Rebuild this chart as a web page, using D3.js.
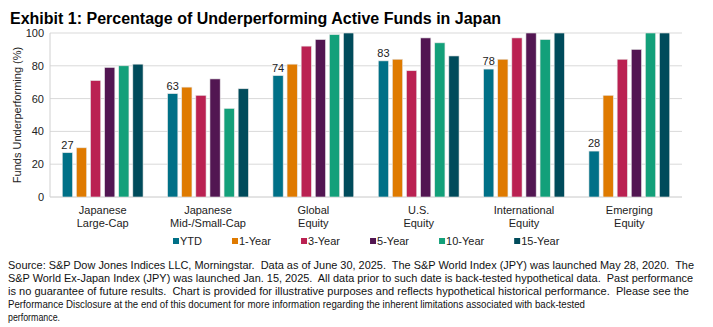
<!DOCTYPE html>
<html>
<head>
<meta charset="utf-8">
<script src="https://cdn.jsdelivr.net/npm/d3@7"></script>
<style>
  body { margin: 0; background: #fff; }
  text { font-family: "Liberation Sans", Arial, sans-serif; fill: #222; }
  .note { white-space: pre; }
</style>
</head>
<body>
<div class="chart"></div>
<script>

var categories = [
    ["Japanese", "Large-Cap"],
    ["Japanese", "Mid-/Small-Cap"],
    ["Global", "Equity"],
    ["U.S.", "Equity"],
    ["International", "Equity"],
    ["Emerging", "Equity"]
];

var seriesNames = ["YTD", "1-Year", "3-Year", "5-Year", "10-Year", "15-Year"];

var ytd = [27, 63, 74, 83, 78, 28];
var oneYear = [30, 67, 81, 84, 84, 62];
var threeYear = [71, 62, 92, 77, 97, 84];
var fiveYear = [79, 72, 96, 97, 100, 90];
var tenYear = [80, 54, 99, 94, 96, 100];
var fifteenYear = [81, 66, 100, 86, 100, 100];

var yTicks = [0, 20, 40, 60, 80, 100];

var colors = ["#007087", "#df7a00", "#ba2152", "#521652", "#13a07a", "#004b5b"];

var footnote = [
    "Source: S&P Dow Jones Indices LLC, Morningstar.  Data as of June 30, 2025.  The S&P World Index (JPY) was launched May 28, 2020.  The",
    "S&P World Ex-Japan Index (JPY) was launched Jan. 15, 2025.  All data prior to such date is back-tested hypothetical data.  Past performance",
    "is no guarantee of future results.  Chart is provided for illustrative purposes and reflects hypothetical historical performance.  Please see the",
    "Performance Disclosure at the end of this document for more information regarding the inherent limitations associated with back-tested",
    "performance."
];
var footnoteWidths = [686, 685, 681, 577, 52];

var allSeries = [ytd, oneYear, threeYear, fiveYear, tenYear, fifteenYear];

// Chart area

var svgWidth = 713;
var svgHeight = 327;

var margin = { top: 33, right: 31, bottom: 130, left: 50 };

var width = svgWidth - margin.left - margin.right;
var height = svgHeight - margin.top - margin.bottom;

var svg = d3.select(".chart")
    .append("svg")
    .attr("width", svgWidth)
    .attr("height", svgHeight);

svg.append("rect")
    .attr("width", svgWidth)
    .attr("height", svgHeight)
    .attr("fill", "#fff");

// Title

svg.append("text")
    .attr("x", 10)
    .attr("y", 24)
    .style("font-size", "16px")
    .style("font-weight", "bold")
    .style("fill", "#000")
    .text("Exhibit 1: Percentage of Underperforming Active Funds in Japan");

var chartGroup = svg.append("g")
    .attr("transform", `translate(${margin.left}, ${margin.top})`);

// Scales

var x0 = d3.scaleBand()
    .domain(d3.range(categories.length))
    .range([0, width])
    .padding(0);

var x1 = d3.scaleBand()
    .domain(seriesNames)
    .range([0, x0.bandwidth()])
    .paddingInner(0.275)
    .paddingOuter(0.87);

var y = d3.scaleLinear()
    .domain([0, 100])
    .range([height, 0]);

// Gridlines

chartGroup.append("g")
    .selectAll("line")
    .data(yTicks)
    .enter()
    .append("line")
    .attr("x1", 0)
    .attr("x2", width)
    .attr("y1", d => y(d))
    .attr("y2", d => y(d))
    .attr("stroke", d => d === 0 ? "#c8c8c8" : "#d9d9d9")
    .attr("stroke-width", 1);

chartGroup.append("line")
    .attr("x1", 0)
    .attr("x2", 0)
    .attr("y1", 0)
    .attr("y2", height)
    .attr("stroke", "#d0d0d0");

// y axis labels

var leftAxis = d3.axisLeft(y)
    .tickValues(yTicks)
    .tickSize(0)
    .tickPadding(6);

var yAxis = chartGroup.append("g")
    .call(leftAxis);
yAxis.select(".domain").remove();
yAxis.selectAll("text")
    .style("font-size", "11px")
    .style("font-family", "'Liberation Sans', Arial, sans-serif")
    .attr("fill", "#222");

svg.append("text")
    .attr("transform", `translate(17, ${margin.top + height / 2}) rotate(-90)`)
    .attr("text-anchor", "middle")
    .attr("dy", "0.35em")
    .style("font-size", "11px")
    .text("Funds Underperforming (%)");

// Bars

var groups = chartGroup.selectAll(".group")
    .data(categories)
    .enter()
    .append("g")
    .attr("class", "group")
    .attr("transform", (d, i) => `translate(${x0(i)}, 0)`);

groups.selectAll("rect")
    .data((d, i) => seriesNames.map((s, j) => ({ series: s, value: allSeries[j][i], color: colors[j] })))
    .enter()
    .append("rect")
    .attr("x", d => x1(d.series))
    .attr("y", d => y(d.value))
    .attr("width", x1.bandwidth())
    .attr("height", d => height - y(d.value))
    .attr("fill", d => d.color)
    .attr("stroke", "#e6e6e6")
    .attr("stroke-width", 0.6);

// YTD value labels

groups.append("text")
    .attr("x", x1("YTD") + x1.bandwidth() / 2)
    .attr("y", (d, i) => y(ytd[i]) - 4)
    .attr("text-anchor", "middle")
    .style("font-size", "11px")
    .text((d, i) => ytd[i]);

// Category labels

groups.each(function(d) {
    var g = d3.select(this);
    d.forEach(function(line, k) {
        g.append("text")
            .attr("x", x0.bandwidth() / 2)
            .attr("y", height + 17 + k * 12.5)
            .attr("text-anchor", "middle")
            .style("font-size", "11px")
            .text(line);
    });
});

// Legend

var legend = svg.append("g")
    .attr("transform", "translate(0, 241)");

var legendX = 173;
seriesNames.forEach(function(name, j) {
    var item = legend.append("g")
        .attr("transform", `translate(${legendX}, 0)`);
    item.append("rect")
        .attr("x", 0)
        .attr("y", -3)
        .attr("width", 6)
        .attr("height", 6)
        .attr("fill", colors[j]);
    var t = item.append("text")
        .attr("x", 7)
        .attr("y", 0)
        .attr("dy", "0.35em")
        .style("font-size", "11px")
        .text(name);
    legendX += 7 + t.node().getComputedTextLength() + 30;
});

// Footnote (keep the double spaces between sentences)

svg.append("g")
    .selectAll("text")
    .data(footnote)
    .enter()
    .append("text")
    .attr("class", "note")
    .attr("x", 8)
    .attr("y", (d, i) => 269 + i * 13)
    .attr("textLength", (d, i) => footnoteWidths[i])
    .attr("lengthAdjust", "spacingAndGlyphs")
    .style("font-size", "11px")
    .style("fill", "#111")
    .text(d => d);
</script>
</body>
</html>
